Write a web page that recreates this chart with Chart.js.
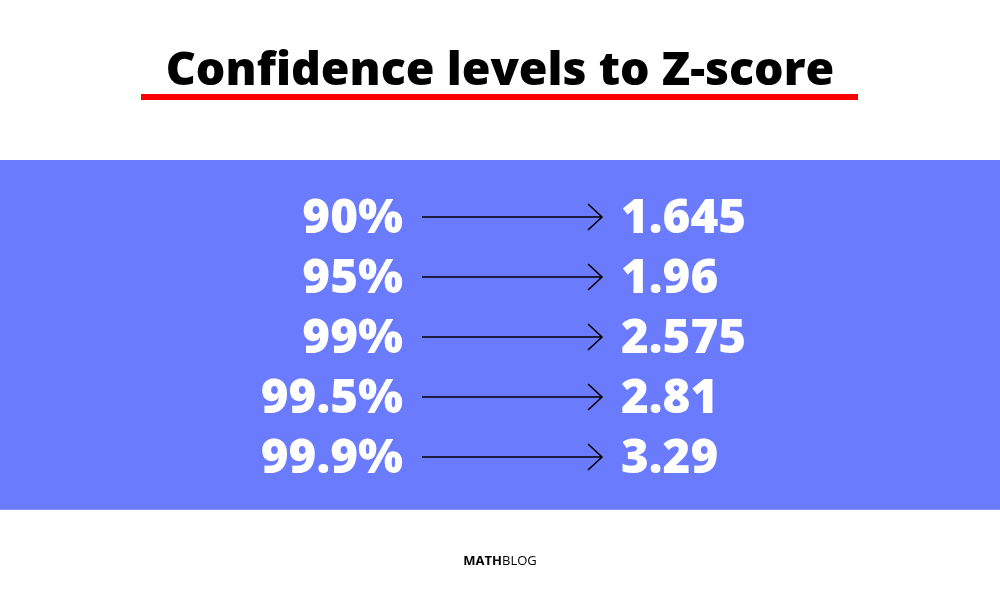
<!DOCTYPE html>
<html><head><meta charset="utf-8">
<script src="https://cdn.jsdelivr.net/npm/chart.js@4"></script>
<style>html,body{margin:0;padding:0;background:#fff}#w{width:1000px;height:600px}</style>
</head><body><div id="w"><canvas id="c"></canvas></div>
<script>
const confidenceLevels = ["90%", "95%", "99%", "99.5%", "99.9%"];
const zScores = ["1.645", "1.96", "2.575", "2.81", "3.29"];
const rowIndex = [0, 1, 2, 3, 4];
const titleText = "Confidence levels to Z-score";

const FONT = "'Open Sans', 'DejaVu Sans', sans-serif";
const drawPlugin = {
  id: 'infographic',
  beforeDatasetsDraw(chart) {
    const {ctx} = chart;
    const xs = chart.scales.x, ys = chart.scales.y;
    ctx.save();
    ctx.fillStyle = '#6b7bfe';
    const top = ys.getPixelForValue(-0.95), bot = ys.getPixelForValue(4.88);
    ctx.fillRect(0, top, chart.width, bot - top);
    ctx.fillStyle = '#000';
    ctx.font = "800 46.5px " + FONT;
    ctx.textAlign = 'center'; ctx.textBaseline = 'alphabetic';
    ctx.fillText(titleText, 500, 85);
    ctx.fillStyle = '#f00';
    ctx.fillRect(141, 94, 717, 6);
    ctx.font = "bold 13px " + FONT;
    const w1 = ctx.measureText("MATH").width;
    ctx.font = "13px " + FONT;
    const w2 = ctx.measureText("BLOG").width;
    const sx = 500 - (w1 + w2) / 2;
    ctx.fillStyle = '#000'; ctx.textAlign = 'left'; ctx.textBaseline = 'middle';
    ctx.font = "bold 13px " + FONT; ctx.fillText("MATH", sx, 561);
    ctx.font = "13px " + FONT; ctx.fillText("BLOG", sx + w1, 561);
    rowIndex.forEach(i => {
      const y = ys.getPixelForValue(i);
      ctx.fillStyle = '#fff';
      ctx.font = "800 47.5px " + FONT;
      ctx.textBaseline = 'middle';
      ctx.textAlign = 'right';
      ctx.fillText(confidenceLevels[i], xs.getPixelForValue(403), y + 2);
      ctx.textAlign = 'left';
      ctx.fillText(zScores[i], xs.getPixelForValue(621), y + 2);
      const a = xs.getPixelForValue(422), b = xs.getPixelForValue(602);
      ctx.strokeStyle = '#000'; ctx.lineWidth = 1.6;
      ctx.beginPath(); ctx.moveTo(a, y); ctx.lineTo(b, y);
      ctx.moveTo(b - 14, y - 13); ctx.lineTo(b, y); ctx.lineTo(b - 14, y + 13);
      ctx.stroke();
    });
    ctx.restore();
  }
};

new Chart(document.getElementById('c'), {
  type: 'scatter',
  data: { datasets: [{ data: rowIndex.map(i => ({x: 500, y: i})), pointRadius: 0 }] },
  options: {
    responsive: true, maintainAspectRatio: false, animation: false,
    layout: { padding: 0 },
    plugins: { legend: {display: false}, tooltip: {enabled: false} },
    scales: {
      x: { type: 'linear', min: 0, max: 1000, display: false },
      y: { type: 'linear', min: -217/60, max: 10 - 217/60, reverse: true, display: false }
    }
  },
  plugins: [drawPlugin]
});
</script></body></html>
